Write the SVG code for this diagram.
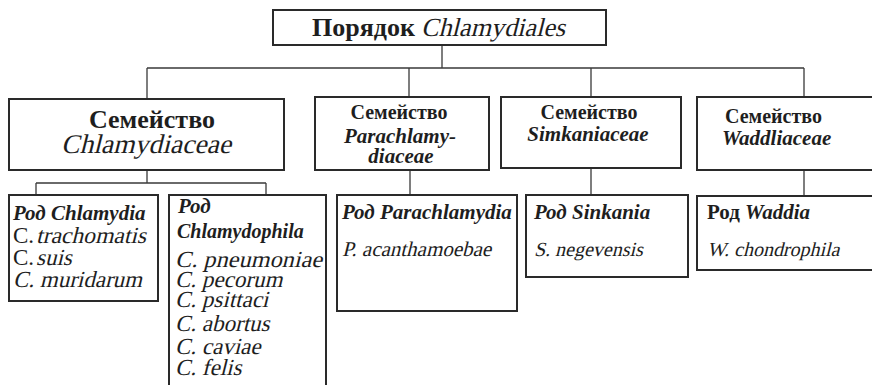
<svg xmlns="http://www.w3.org/2000/svg" width="872" height="385" viewBox="0 0 872 385">
<style>
.box{fill:#fff;stroke:#2a2a2a;stroke-width:2}
.ln{fill:none;stroke:#3a3a3a;stroke-width:1.3}
text{fill:#1e1e1e;font-family:'Liberation Serif','Times New Roman',serif}
.b{font-weight:bold}
.bi{font-weight:bold;font-style:italic}
.f20{font-size:20px}
.f21{font-size:21px}
.f23{font-size:23px}
.f26{font-size:26px}
.f27{font-size:27px}
</style>
<rect width="872" height="385" fill="#fff"/>
<g id="connectors">
<path class="ln" d="M442 45V68M147 68H804M147 68V99M409 68V97M591 68V97M804 68V97"/>
<path class="ln" d="M147 170V183M36 183H266M36 183V195M266 183V195"/>
<path class="ln" d="M410 170V195M591 168V195M804 170V196"/>
</g>
<g id="order">
<rect class="box" x="273" y="10" width="333" height="35"/>
<text x="312" y="36" class="f26 b">Порядок</text>
<text class="f26" transform="translate(421,36) skewX(-14)" textLength="144" lengthAdjust="spacingAndGlyphs">Chlamydiales</text>
</g>
<g id="fam-chlamydiaceae">
<rect class="box" x="9" y="99" width="275" height="71"/>
<text x="152" y="128" class="f26 b" text-anchor="middle">Семейство</text>
<text class="f27" transform="translate(61,153) skewX(-14)" textLength="170" lengthAdjust="spacingAndGlyphs">Chlamydiaceae</text>
</g>
<g id="fam-parachlamydiaceae">
<rect class="box" x="315" y="97" width="174" height="73"/>
<text x="399" y="119" class="f20 b" text-anchor="middle">Семейство</text>
<text x="400" y="143" class="f21 bi" text-anchor="middle">Parachlamy-</text>
<text x="401" y="163" class="f21 bi" text-anchor="middle">diaceae</text>
</g>
<g id="fam-simkaniaceae">
<rect class="box" x="501" y="97" width="180" height="71"/>
<text x="589" y="119" class="f20 b" text-anchor="middle">Семейство</text>
<text x="588" y="141" class="f21 bi" text-anchor="middle">Simkaniaceae</text>
</g>
<g id="fam-waddliaceae">
<rect class="box" x="697" y="97" width="178" height="73"/>
<text x="725" y="123" class="f20 b">Семейство</text>
<text x="722" y="145" class="f21 bi">Waddliaceae</text>
</g>
<g id="genus-chlamydia">
<rect class="box" x="9" y="195" width="149" height="106"/>
<text x="13" y="220" class="f21 bi">Род Chlamydia</text>
<text x="13" y="243" class="f23">C.</text>
<text class="f23" transform="translate(36,243) skewX(-14)" textLength="110" lengthAdjust="spacingAndGlyphs">trachomatis</text>
<text x="13" y="265" class="f23">C.</text>
<text class="f23" transform="translate(36,265) skewX(-14)">suis</text>
<text class="f23" transform="translate(13,287) skewX(-14)">C. muridarum</text>
</g>
<g id="genus-chlamydophila">
<rect class="box" x="169" y="195" width="157" height="200"/>
<text x="178" y="213" class="f21 bi">Род</text>
<text x="177" y="238" class="f20 bi">Chlamydophila</text>
<text class="f23" transform="translate(175,267) skewX(-14)" textLength="147" lengthAdjust="spacingAndGlyphs">C. pneumoniae</text>
<text class="f23" transform="translate(175,287) skewX(-14)">C. pecorum</text>
<text class="f23" transform="translate(175,307) skewX(-14)">C. psittaci</text>
<text class="f23" transform="translate(175,331) skewX(-14)">C. abortus</text>
<text class="f23" transform="translate(175,354) skewX(-14)">C. caviae</text>
<text class="f23" transform="translate(175,375) skewX(-14)">C. felis</text>
</g>
<g id="genus-parachlamydia">
<rect class="box" x="337" y="195" width="180" height="116"/>
<text x="342" y="219" class="f21 bi">Род Parachlamydia</text>
<text class="f21" transform="translate(342,256) skewX(-14)">P. acanthamoebae</text>
</g>
<g id="genus-sinkania">
<rect class="box" x="526" y="195" width="162" height="82"/>
<text x="534" y="219" class="f21 bi">Род Sinkania</text>
<text class="f20" transform="translate(534,256) skewX(-14)">S. negevensis</text>
</g>
<g id="genus-waddia">
<rect class="box" x="697" y="196" width="178" height="74"/>
<text x="707" y="219" class="f21"><tspan class="b">Род</tspan> <tspan class="bi">Waddia</tspan></text>
<text class="f20" transform="translate(707,256) skewX(-14)">W. chondrophila</text>
</g>
</svg>
